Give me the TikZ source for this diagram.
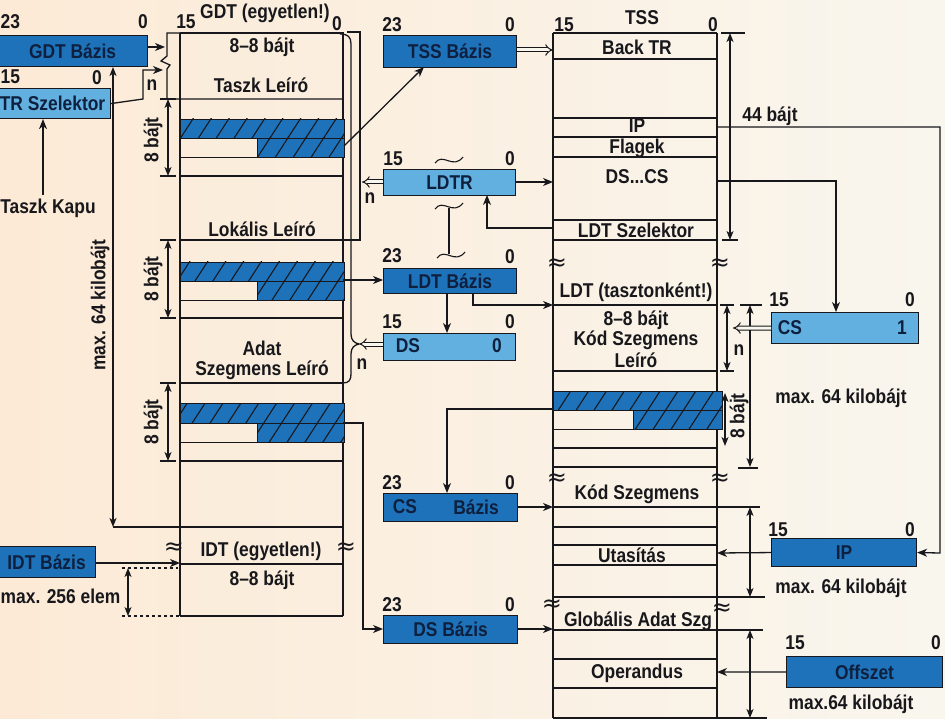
\documentclass[tikz,border=0pt]{standalone}
\usepackage{fontspec}
\setmainfont{Liberation Sans}[FakeStretch=0.87]
\newfontfamily\symf{DejaVu Sans}
\usetikzlibrary{arrows.meta,patterns.meta}
\definecolor{dblue}{RGB}{30,114,186}
\definecolor{lblue}{RGB}{98,176,224}
\definecolor{ink}{RGB}{24,24,28}
\definecolor{navy}{RGB}{14,32,62}
\definecolor{paperL}{RGB}{252,234,214}
\definecolor{paperR}{RGB}{249,246,238}
\newcommand\brkwave[2]{\draw[line width=1.1pt,shift={(#1,#2)}] (-14,3) .. controls (-6,-8) and (4,10) .. (14,-3);}
\begin{document}
\begin{tikzpicture}[x=1pt,y=-1pt,line width=1.3pt,ink,
  every node/.style={inner sep=0pt,text=ink,font=\fontsize{20}{22}\selectfont\bfseries},
  reg/.style={draw=ink,line width=1.1pt,text=navy,anchor=north west},
  dk/.style={reg,fill=dblue},
  lt/.style={reg,fill=lblue},
  arr/.style={-{Stealth[length=10pt,width=8pt,inset=3pt]}},
  dim/.style={{Stealth[length=9pt,width=7pt,inset=2.5pt]}-{Stealth[length=9pt,width=7pt,inset=2.5pt]}},
  dbl/.style={double=paperR,double distance=3pt,line width=1pt,-{Implies}},
  hatch/.style={preaction={fill=dblue},pattern={Lines[angle=57,distance=15pt,line width=1.1pt]},pattern color=ink,draw=ink,line width=0.9pt},
  rot/.style={rotate=90},
  apx/.style={font=\symf\fontsize{24}{24}\selectfont}]
\useasboundingbox (0,0) rectangle (945,719);
\shade[left color=paperL,right color=paperR] (0,0) rectangle (945,719);

% ---------------- GDT table ----------------
\draw (180,33) -- (344,33);
\draw (180,33) -- (180,616);
\draw (343,33) -- (343,616);
\draw (180,33) -- (167,33) -- (167,56) -- (161,61) -- (170,65) -- (167,69) -- (167,99) -- (343,99);
\foreach \yy in {176,240,318,383,461,564,616} \draw (180,\yy) -- (343,\yy);
\path[hatch] (180,119) rectangle (344,138);
\path[hatch] (257,138) rectangle (344,157);
\draw[line width=0.9pt] (180,138) -- (257,138) (180,157) -- (257,157);
\path[hatch] (180,262) rectangle (344,281);
\path[hatch] (257,281) rectangle (344,300);
\draw[line width=0.9pt] (180,281) -- (257,281) (180,300) -- (257,300);
\path[hatch] (180,403) rectangle (344,423);
\path[hatch] (257,423) rectangle (344,442);
\draw[line width=0.9pt] (180,423) -- (257,423) (180,442) -- (257,442);
% brackets on the right of GDT
\draw (347,32) -- (360,32) -- (360,240) -- (343,240);
\draw (340,34) .. controls (348,34) and (351,37) .. (351,44) -- (351,334) .. controls (351,340) and (354,343) .. (359,344);
\draw (343,383) .. controls (349,383) and (351,380) .. (351,374) -- (351,354) .. controls (351,348) and (354,345) .. (359,344);

\node (g15) at (186,22) {15};
\node (gtit) at (265,13) {GDT (egyetlen!)};
\node (g0) at (337,24) {0};
\node (g88) at (262,47) {8–8 bájt};
\node (gtl) at (261,85) {Taszk Leíró};
\node (gll) at (262,229) {Lokális Leíró};
\node (gad) at (262,348) {Adat};
\node (gsl) at (262,370) {Szegmens Leíró};
\node (gidt) at (261,551) {IDT (egyetlen!)};
\node (g88b) at (262,580) {8–8 bájt};
\node[apx] (gw1) at (174,549) {≈};
\node[apx] (gw2) at (346,549) {≈};
\node[rot] (b1) at (153,140) {8 bájt};
\node[rot] (b2) at (153,279) {8 bájt};
\node[rot] (b3) at (153,422) {8 bájt};
\foreach \ya/\yb in {99/176,240/318,383/461}{
  \draw[dim,line width=1.1pt] (168,\ya) -- (168,\yb);
  \draw[line width=1.1pt] (160,\ya) -- (176,\ya) (160,\yb) -- (176,\yb);}
\node[rot] (m64a) at (100,305) {max. 64 kilobájt};
\draw[dim] (113,67) -- (113,527);
\draw (113,527) -- (343,527);
\node (gn) at (152,85) {n};

% ---------------- left registers ----------------
\node[dk,minimum width=150pt,minimum height=31pt] (gdtb) at (-3,35) {GDT Bázis};
\node[anchor=west] (gdtb23) at (0,22) {23};
\node (gdtb0) at (143,22) {0};
\node[lt,minimum width=116pt,minimum height=30pt] (trsz) at (-6,88) {TR Szelektor};
\node[anchor=west] (trsz15) at (0,77) {15};
\node (trsz0) at (97,78) {0};
\node (kapu) at (48,208) {Taszk Kapu};
\draw[arr] (43,195) -- (trsz.south -| 43,0);
\node[dk,minimum width=98pt,minimum height=31pt] (idtb) at (-3,546) {IDT Bázis};
\node[anchor=east] (m256) at (121,596) {max. 256 elem};
\coordinate (gtop) at (165,47);
\draw[arr] (gdtb.east |- gtop) -- (gtop);
\coordinate (gsel) at (163,70);
\draw[arr] (trsz.east) -- (143,99) -- (143,70) -- (gsel);
\coordinate (idtin) at (180,563);
\draw[arr] (idtb.east |- idtin) -- (idtin);
\draw[dim,line width=1.1pt] (128,568) -- (128,616);
\draw[dashed,line width=1.1pt] (122,568) -- (178,568) (122,616) -- (180,616);

% ---------------- middle registers ----------------
\node[dk,minimum width=133pt,minimum height=32pt] (tssb) at (383,35) {TSS Bázis};
\node (tssb23) at (392,25) {23};
\node (tssb0) at (510,25) {0};
\node[lt,minimum width=132pt,minimum height=26pt] (ldtr) at (383,169) {LDTR};
\node (ldtr15) at (393,159) {15};
\node (ldtr0) at (510,159) {0};
\node[dk,minimum width=133pt,minimum height=25pt] (ldtb) at (383,268) {LDT Bázis};
\node (ldtb23) at (392,256) {23};
\node (ldtb0) at (510,257) {0};
\node[lt,minimum width=132pt,minimum height=27pt] (ds) at (383,333) {};
\node[text=navy] (dst) at (408,346) {DS};
\node[text=navy] (ds0) at (497,346) {0};
\node (ds15) at (392,322) {15};
\node (ds0b) at (510,322) {0};
\node[dk,minimum width=134pt,minimum height=28pt] (csb) at (383,493) {};
\node[text=navy] (csbt1) at (405,507) {CS};
\node[text=navy] (csbt2) at (476,507) {Bázis};
\node (csb23) at (392,483) {23};
\node (csb0) at (510,483) {0};
\node[dk,minimum width=134pt,minimum height=28pt] (dsb) at (383,615) {DS Bázis};
\node (dsb23) at (392,605) {23};
\node (dsb0) at (510,605) {0};
\node (ldn) at (370,198) {n};
\node (dsn) at (362,364) {n};
\brkwave{449}{160}
\brkwave{449}{206}
\brkwave{451}{255}
\draw (449,208) -- (449,254);

% ---------------- TSS / LDT / segments column ----------------
\draw (553,33) -- (553,718);
\draw (717,33) -- (717,718);
\foreach \yy in {33,59,118,137,157,220,240,305,371,448,467,527,545,565,659,688} \draw (553,\yy) -- (717,\yy);
\draw (553,507) -- (760,507);
\draw (553,597) -- (765,597);
\draw (553,630) -- (763,630);
\draw (553,718) -- (767,718);
\path[hatch] (553,391) rectangle (722,410);
\path[hatch] (633,410) rectangle (722,429);
\draw[line width=0.9pt] (553,410) -- (633,410) (553,429) -- (633,429);
\node (t15) at (564,25) {15};
\node (ttss) at (642,18) {TSS};
\node (t0) at (713,25) {0};
\node (tback) at (637,47) {Back TR};
\node (tip) at (637,126) {IP};
\node (tfl) at (637,148) {Flagek};
\node (tdscs) at (637,177) {DS...CS};
\node (tlsz) at (636,230) {LDT Szelektor};
\node (tldt) at (636,292) {LDT (tasztonként!)};
\node (t88) at (636,320) {8–8 bájt};
\node (tks) at (636,340) {Kód Szegmens};
\node (tle) at (636,360) {Leíró};
\node (tks2) at (637,494) {Kód Szegmens};
\node (tut) at (632,555) {Utasítás};
\node (tgl) at (638,621) {Globális Adat Szg};
\node (top) at (637,673) {Operandus};
\foreach \yy/\nm in {265/a,480/b}{
  \node[apx] (wl\nm) at (557,\yy) {≈};
  \node[apx] (wr\nm) at (720,\yy) {≈};}
\node[apx] (wlc) at (552,606) {≈};
\node[apx] (wrc) at (722,610) {≈};
\node (t44) at (770,116) {44 bájt};
\draw[dim,line width=1.1pt] (730,33) -- (730,240);
\draw[line width=1.1pt] (721,33) -- (745,33) (722,240) -- (738,240);
\draw[dim,line width=1.1pt] (727,305) -- (727,371);
\draw[line width=1.1pt] (720,305) -- (734,305) (720,371) -- (734,371);
\node (tn) at (739,350) {n};
\draw[dim,line width=1.1pt] (750,305) -- (750,467);
\draw[line width=1.1pt] (740,305) -- (762,305) (738,468) -- (758,468);
\draw[dim,line width=1.1pt] (725,393) -- (725,446);
\node[rot] (t8b) at (739,416) {8 bájt};
\node (tm1) at (841,398) {max. 64 kilobájt};
\draw[dim,line width=1.1pt] (750,507) -- (750,597);
\node (tm2) at (841,588) {max. 64 kilobájt};
\draw[dim,line width=1.1pt] (750,630) -- (750,718);
\node (tm3) at (851,704) {max.64 kilobájt};

% right registers
\node[lt,minimum width=147pt,minimum height=31pt] (cs) at (771,312) {};
\node[text=navy] (cst) at (790,328) {CS};
\node[text=navy] (cs1) at (902,328) {1};
\node (cs15) at (779,300) {15};
\node (cs0) at (910,300) {0};
\node[dk,minimum width=145pt,minimum height=28pt] (ip) at (771,538) {IP};
\node (ip15) at (778,530) {15};
\node (ip0) at (910,530) {0};
\node[dk,minimum width=156pt,minimum height=31pt] (off) at (786,656) {Offszet};
\node (off15) at (795,643) {15};
\node (off0) at (936,643) {0};

% ---------------- connectors ----------------
\coordinate (tssin) at (553,50);
\draw[dbl] (tssb.east |- tssin) -- (tssin);
\coordinate (gh1) at (344,146);
\draw[arr] (gh1) -- (424,67);
\coordinate (tlsel) at (553,228);
\draw[arr] (tlsel) -- (487,228) -- (487,195);
\coordinate (tdsin) at (553,182);
\draw[arr] (ldtr.east |- tdsin) -- (tdsin);
\coordinate (brA) at (362,182);
\draw[dbl] (ldtr.west |- brA) -- (brA);
\coordinate (gh2) at (343,280);
\draw[arr] (gh2) -- (ldtb.west |- gh2);
\draw[arr] (447,293) -- (447,333);
\coordinate (tldtin) at (553,305);
\draw[arr] (473,293) -- (473,305) -- (tldtin);
\coordinate (brB) at (359,344);
\draw[dbl] (ds.west |- brB) -- (brB);
\coordinate (th) at (553,409);
\draw[arr] (th) -- (447,409) -- (447,493);
\coordinate (tcsin) at (553,507);
\draw[arr] (csb.east |- tcsin) -- (tcsin);
\coordinate (gh3) at (343,423);
\draw[arr] (gh3) -- (363,423) -- (363,629) -- (383,629);
\coordinate (tdsbin) at (553,629);
\draw[arr] (dsb.east |- tdsbin) -- (tdsbin);
\coordinate (tipout) at (717,127);
\draw[arr] (tipout) -- (940,127) -- (940,553) -- (ip.east);
\coordinate (tdsout) at (717,181);
\draw[arr] (tdsout) -- (836,181) -- (836,312);
\coordinate (tcsn) at (733,328);
\draw[dbl] (cs.west) -- (tcsn);
\coordinate (tipin) at (717,553);
\draw[arr] (ip.west) -- (tipin);
\coordinate (topin) at (717,672);
\draw[arr] (off.west) -- (topin);
\end{tikzpicture}
\end{document}
